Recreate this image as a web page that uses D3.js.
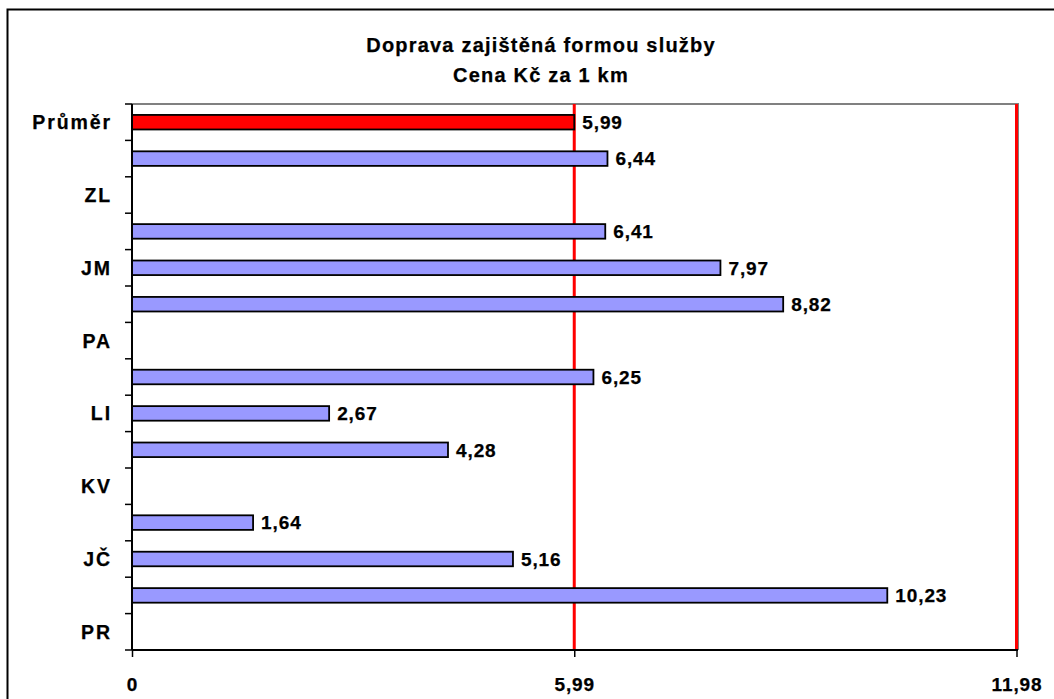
<!DOCTYPE html>
<html>
<head>
<meta charset="utf-8">
<script src="https://cdn.jsdelivr.net/npm/d3@7"></script>
<style>
    body { margin: 0; background: #fff; }
    svg text { font-family: Arial, 'Liberation Sans', sans-serif; font-weight: bold; fill: #000; stroke: #000; stroke-width: 0.25px; }
</style>
</head>
<body>
<div id="chart"></div>
<script>
// kraje odspodu nahoru (jako v Excelu), poslední je průměr
var categories = ['PR', 'SČ', 'JČ', 'PL', 'KV', 'ÚL', 'LI', 'HK', 'PA', 'VY', 'JM', 'OL', 'ZL', 'MS', 'Průměr']
var values = [null, 10.23, 5.16, 1.64, null, 4.28, 2.67, 6.25, null, 8.82, 7.97, 6.41, null, 6.44, 5.99]
var xTicks = [0, 5.99, 11.98]
var titleLines = ['Doprava zajištěná formou služby', 'Cena Kč za 1 km']

;(function () {
    var w = 1054,
        h = 699,
        left = 132,
        right = 1016.5,
        top = 104,
        bottom = 650

    var cz = d3.formatLocale({ decimal: ',', thousands: ' ', grouping: [3], currency: ['', ' Kč'] }),
        fmt = cz.format('.2f')

    var data = categories.map(function (c, i) {
        return { cat: c, value: values[i] }
    })

    var svg = d3
        .select('#chart')
        .append('svg')
        .attr('width', w)
        .attr('height', h)

    // rámeček grafu (přesahuje vpravo a dole)
    svg.append('rect')
        .attr('x', 7.5)
        .attr('y', 9.5)
        .attr('width', w + 50)
        .attr('height', h + 50)
        .attr('fill', 'none')
        .attr('stroke', '#000')
        .attr('stroke-width', 2)

    // nadpis
    svg.selectAll('text.title')
        .data(titleLines)
        .enter()
        .append('text')
        .attr('class', 'title')
        .attr('x', 541)
        .attr('y', function (d, i) {
            return 52 + i * 29.5
        })
        .attr('text-anchor', 'middle')
        .style('font-size', '20px')
        .style('letter-spacing', '1.2px')
        .text(function (d) {
            return d
        })

    var x = d3.scaleLinear().domain([0, 11.98]).range([left, right])
    var y = d3
        .scaleBand()
        .domain(categories)
        .range([bottom, top])
        .paddingInner(0.6)
        .paddingOuter(0.3)
    var gap = (y.step() - y.bandwidth()) / 2

    // okraj plochy grafu
    svg.append('path')
        .attr('d', 'M' + left + ',' + top + 'H' + (right + 1.5) + 'V' + bottom)
        .attr('fill', 'none')
        .attr('stroke', '#808080')
        .attr('stroke-width', 2)

    // červené mřížky
    svg.selectAll('line.grid')
        .data(xTicks.filter(function (d) { return d > 0 }))
        .enter()
        .append('line')
        .attr('class', 'grid')
        .attr('x1', function (d) { return x(d) })
        .attr('x2', function (d) { return x(d) })
        .attr('y1', top)
        .attr('y2', bottom)
        .attr('stroke', '#ff0000')
        .attr('stroke-width', 3)

    // sloupce
    var bars = data.filter(function (d) {
        return d.value != null
    })
    svg.selectAll('rect.bar')
        .data(bars)
        .enter()
        .append('rect')
        .attr('class', 'bar')
        .attr('x', x(0))
        .attr('y', function (d) { return y(d.cat) })
        .attr('width', function (d) { return x(d.value) - x(0) })
        .attr('height', y.bandwidth())
        .attr('fill', function (d) {
            return d.cat === 'Průměr' ? '#ff0000' : '#9999ff'
        })
        .attr('stroke', '#000')
        .attr('stroke-width', 1.8)

    // hodnoty u sloupců
    svg.selectAll('text.val')
        .data(bars)
        .enter()
        .append('text')
        .attr('class', 'val')
        .attr('x', function (d) { return x(d.value) + 8 })
        .attr('y', function (d) { return y(d.cat) + y.bandwidth() / 2 + 6.8 })
        .style('font-size', '19px')
        .style('letter-spacing', '0.9px')
        .text(function (d) {
            return fmt(d.value)
        })

    // osa Y - popisky jen u každé druhé kategorie (Excel je přeskakuje)
    var yAxis = svg
        .append('g')
        .attr('transform', 'translate(' + left + ',0)')
        .call(
            d3.axisLeft(y)
                .tickValues(categories.filter(function (c, i) { return i % 2 === 0 }))
                .tickSize(0)
                .tickPadding(20)
        )
    yAxis.select('.domain').remove()
    yAxis.selectAll('text')
        .attr('dy', '0.36em')
        .style('font-size', '19.5px')
        .style('letter-spacing', '1.9px')

    // značky mezi kategoriemi
    var tickYs = categories.map(function (c) { return y(c) - gap })
    tickYs.push(y(categories[0]) + y.bandwidth() + gap)
    svg.selectAll('line.ytick')
        .data(tickYs)
        .enter()
        .append('line')
        .attr('class', 'ytick')
        .attr('x1', left - 7)
        .attr('x2', left)
        .attr('y1', function (d) { return d })
        .attr('y2', function (d) { return d })
        .attr('stroke', '#000')
        .attr('stroke-width', 1.5)

    // osa X
    var xAxis = svg
        .append('g')
        .attr('transform', 'translate(0,' + bottom + ')')
        .call(
            d3.axisBottom(x)
                .tickValues(xTicks)
                .tickSize(7)
                .tickFormat(function (d) { return d === 0 ? '0' : fmt(d) })
        )
    xAxis.select('.domain').remove()
    xAxis.selectAll('.tick line').attr('stroke', '#000').attr('stroke-width', 1.5)
    xAxis.selectAll('text')
        .attr('y', 41)
        .attr('dy', 0)
        .style('font-size', '19px')
        .style('letter-spacing', '0.9px')

    // čáry os
    svg.append('line')
        .attr('x1', left).attr('x2', left)
        .attr('y1', top).attr('y2', bottom)
        .attr('stroke', '#000').attr('stroke-width', 2)
    svg.append('line')
        .attr('x1', left).attr('x2', right + 1.5)
        .attr('y1', bottom).attr('y2', bottom)
        .attr('stroke', '#000').attr('stroke-width', 2)
})()
</script>
</body>
</html>
